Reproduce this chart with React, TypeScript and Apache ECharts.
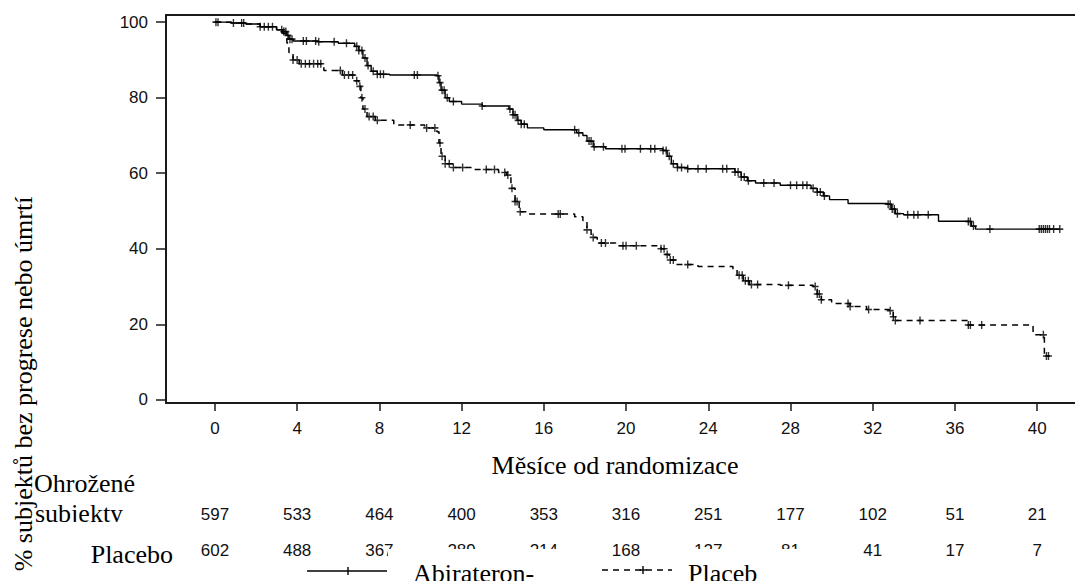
import React, { useEffect, useRef } from "react";
import * as echarts from "echarts";

// ---- data ----
const monthTicks = [0, 4, 8, 12, 16, 20, 24, 28, 32, 36, 40];
const pctTicks = [0, 20, 40, 60, 80, 100];

const atRiskAbi = [597, 533, 464, 400, 353, 316, 251, 177, 102, 51, 21];
const atRiskPbo = [602, 488, 367, 289, 214, 168, 127, 81, 41, 17, 7];

const abiT = [0, 0.8, 1.5, 2.2, 3.0, 3.3, 3.5, 3.6, 3.8, 5.0, 6.0, 6.8, 7.0, 7.2, 7.4, 7.6, 7.9, 8.5, 10.8, 10.9, 11.0, 11.2, 11.4, 12, 13, 14.3, 14.5, 14.7, 14.9, 15.2, 16, 17.6, 17.9, 18.1, 18.4, 19, 21.8, 22.0, 22.2, 22.5, 23, 25.3, 25.6, 25.9, 26.3, 27.5, 29.0, 29.3, 29.6, 29.9, 30.8, 32.7, 32.9, 33.1, 33.5, 35.2, 36.6, 36.8, 37.0, 41.1];
const abiS = [100, 99.8, 99.5, 98.8, 98.0, 97.5, 96.5, 95.5, 95.0, 94.8, 94.4, 93.6, 92.5, 90.5, 88.5, 87, 86.2, 86, 85.8, 84, 82, 80, 79, 78.3, 77.8, 77, 75.5, 74, 73, 72, 71.5, 70.7, 70, 68.5, 67, 66.5, 66, 64.5, 62.5, 61.5, 61.2, 60.3, 59, 58, 57.4, 56.8, 56, 55, 54, 53, 52, 51.8, 50.5, 49.3, 49, 47.3, 47.2, 46, 45.2, 45.2];

const pboT = [0, 0.8, 1.5, 2.2, 3.0, 3.3, 3.5, 3.6, 3.8, 4.1, 5.3, 6.2, 6.8, 7.0, 7.1, 7.2, 7.4, 7.8, 8.7, 10.2, 10.8, 10.9, 11.0, 11.2, 11.6, 12.5, 13.8, 14.2, 14.4, 14.6, 14.8, 15.2, 17.5, 17.9, 18.1, 18.3, 18.6, 19.5, 21.7, 21.9, 22.1, 22.4, 23.5, 25.2, 25.4, 25.7, 26.0, 27.5, 29.1, 29.3, 29.5, 30.0, 30.9, 31.7, 32.8, 33.0, 33.1, 36.65, 39.8, 40.35, 40.6];
const pboS = [100, 99.8, 99.5, 98.8, 98.0, 97, 94.5, 92, 90, 89, 87.2, 86, 84.5, 83, 80, 77, 75, 74, 72.8, 72, 71, 68, 64.5, 62.5, 61.5, 61, 60.2, 59.5, 56, 52.5, 49.8, 49.2, 48.5, 47.5, 45, 43, 41.5, 40.8, 40, 38.5, 37, 35.8, 35.3, 34.5, 33, 31.5, 30.5, 30.3, 30, 28, 26.5, 25.5, 24.7, 23.9, 23.6, 22, 21, 19.8, 17.2, 11.6, 11.6];

const abiCensor = [0.05, 0.15, 0.9, 1.3, 1.4, 2.2, 2.4, 2.6, 2.8, 3.25, 3.35, 3.45, 3.55, 3.65, 3.75, 4.3, 4.45, 4.9, 5.05, 5.8, 6.4, 6.9, 7.0, 7.15, 7.3, 7.45, 7.7, 7.9, 8.05, 8.2, 9.7, 9.85, 10.85, 10.95, 11.05, 11.15, 11.3, 11.6, 13.0, 14.35, 14.5, 14.6, 14.75, 14.9, 15.05, 17.5, 17.7, 18.2, 18.3, 18.45, 18.9, 19.8, 19.95, 20.7, 21.2, 21.4, 21.8, 21.95, 22.1, 22.3, 22.5, 22.7, 23.0, 23.5, 23.9, 24.7, 24.9, 25.3, 25.45, 25.6, 25.75, 25.95, 26.7, 27.2, 28.0, 28.3, 28.6, 28.8, 29.1, 29.3, 29.45, 29.65, 32.75, 32.85, 32.95, 33.05, 33.2, 33.7, 34.0, 34.2, 34.7, 36.65, 36.75, 36.9, 37.7, 40.1, 40.2, 40.3, 40.4, 40.5, 40.6, 40.8, 41.1];
const pboCensor = [3.8, 4.0, 4.2, 4.4, 4.6, 4.8, 5.0, 5.15, 6.1, 6.3, 6.5, 6.7, 6.9, 7.05, 7.15, 7.3, 7.5, 7.7, 7.9, 9.5, 10.3, 10.7, 10.95, 11.05, 11.2, 11.4, 11.6, 12.05, 13.2, 13.6, 14.1, 14.25, 14.45, 14.6, 14.7, 14.85, 16.7, 16.8, 18.1, 18.4, 18.8, 19.0, 19.85, 20.0, 20.5, 21.7, 21.85, 22.0, 22.15, 22.3, 23.0, 25.5, 25.65, 25.8, 25.95, 26.1, 26.4, 27.9, 29.2, 29.3, 29.4, 29.5, 30.8, 30.9, 31.8, 32.85, 33.0, 33.1, 34.3, 36.65, 36.75, 37.3, 40.3, 40.45, 40.55];

const abiName = "Abirateron-";
const pboName = "Placeb";
const xTitle = "Měsíce od randomizace";
const yTitle = "% subjektů bez progrese nebo úmrtí";
const riskTitle1 = "Ohrožené";
const riskTitle2 = "subjekty";
const riskRow2Name = "Placebo";

// ---- helpers ----
const SERIF = "Liberation Serif";
const SANS = "Liberation Sans";
const PLUS = "path://M4,0 H6 V4 H10 V6 H6 V10 H4 V6 H0 V4 H4 Z";

function stepAt(ts: number[], ss: number[], t: number): number {
  let v = ss[0];
  for (let i = 0; i < ts.length; i++) {
    if (ts[i] <= t) v = ss[i];
    else break;
  }
  return v;
}

export default function App() {
  const ref = useRef<HTMLDivElement>(null);

  useEffect(() => {
    if (!ref.current) return;
    const chart = echarts.init(ref.current, null, { renderer: "svg" });
    const axisColor = "#1a1a1a";

    const option: any = {
      animation: false,
      backgroundColor: "#fff",
      grid: { left: 166, top: 15, right: 0, bottom: 178 },
      xAxis: [
        {
          type: "value",
          min: -2.38,
          max: 41.84,
          position: "bottom",
          axisLine: { show: true, onZero: false, lineStyle: { color: axisColor, width: 2 } },
          axisTick: { show: true, length: 8, customValues: monthTicks, lineStyle: { color: axisColor, width: 1.5 } },
          axisLabel: { customValues: monthTicks, fontSize: 17, fontFamily: SANS, color: "#111", margin: 17 },
          splitLine: { show: false },
        },
        {
          type: "value",
          min: -2.38,
          max: 41.84,
          position: "top",
          axisLine: { show: true, onZero: false, lineStyle: { color: axisColor, width: 2 } },
          axisTick: { show: false },
          axisLabel: { show: false },
          splitLine: { show: false },
        },
      ],
      yAxis: {
        type: "value",
        min: -0.85,
        max: 101.9,
        axisLine: { show: true, onZero: false, lineStyle: { color: axisColor, width: 2 } },
        axisTick: { show: true, length: 10, customValues: pctTicks, lineStyle: { color: axisColor, width: 1.5 } },
        axisLabel: { customValues: pctTicks, fontSize: 17, fontFamily: SANS, color: "#111", margin: 18 },
        splitLine: { show: false },
      },
      series: [
        {
          type: "line",
          name: abiName,
          step: "end",
          showSymbol: false,
          data: abiT.map((t, i) => [t, abiS[i]]),
          lineStyle: { color: "#000", width: 1.4, type: "solid" },
          z: 3,
        },
        {
          type: "scatter",
          data: abiCensor.map((t) => [t, stepAt(abiT, abiS, t)]),
          symbol: PLUS,
          symbolSize: [7, 8],
          itemStyle: { color: "#000" },
          z: 4,
        },
        {
          type: "line",
          name: pboName,
          step: "end",
          showSymbol: false,
          data: pboT.map((t, i) => [t, pboS[i]]),
          lineStyle: { color: "#000", width: 1.5, type: [6, 5] },
          z: 3,
        },
        {
          type: "scatter",
          data: pboCensor.map((t) => [t, stepAt(pboT, pboS, t)]),
          symbol: PLUS,
          symbolSize: [7, 8],
          itemStyle: { color: "#000" },
          z: 4,
        },
      ],
    };
    chart.setOption(option);

    const px = (t: number) => chart.convertToPixel({ xAxisIndex: 0 }, t) as number;
    const g: any[] = [];
    // at-risk rows
    monthTicks.forEach((m, i) => {
      g.push({
        type: "text", x: px(m), y: 514, z: 5,
        style: { text: String(atRiskAbi[i]), fontSize: 17, fontFamily: SANS, fill: "#111", align: "center", verticalAlign: "middle" },
      });
      g.push({
        type: "text", x: px(m), y: 550, z: 5,
        style: { text: String(atRiskPbo[i]), fontSize: 17, fontFamily: SANS, fill: "#111", align: "center", verticalAlign: "middle" },
      });
    });
    // white legend boxes covering parts of row 2
    g.push({ type: "rect", shape: { x: 388, y: 549, width: 212, height: 40 }, style: { fill: "#fff" }, z: 10 });
    g.push({ type: "rect", shape: { x: 650, y: 549, width: 155, height: 40 }, style: { fill: "#fff" }, z: 10 });
    g.push({ type: "rect", shape: { x: 34, y: 522, width: 106, height: 18 }, style: { fill: "#fff" }, z: 10 });
    // titles
    g.push({
      type: "text", x: 615, y: 465, z: 20,
      style: { text: xTitle, fontSize: 26, fontFamily: SERIF, fill: "#000", align: "center", verticalAlign: "middle" },
    });
    g.push({
      type: "text", x: 34, y: 483, z: 8,
      style: { text: riskTitle1, fontSize: 26, fontFamily: SERIF, fill: "#000", align: "left", verticalAlign: "middle" },
    });
    g.push({
      type: "text", x: 35, y: 513, z: 8,
      style: { text: riskTitle2, fontSize: 26, fontFamily: SERIF, fill: "#000", align: "left", verticalAlign: "middle" },
    });
    g.push({
      type: "text", x: 173, y: 554, z: 8,
      style: { text: riskRow2Name, fontSize: 26, fontFamily: SERIF, fill: "#000", align: "right", verticalAlign: "middle" },
    });
    g.push({
      type: "text", x: 23, y: 384, rotation: Math.PI / 2, z: 30,
      style: { text: yTitle, fontSize: 26, fontFamily: SERIF, fill: "#000", align: "center", verticalAlign: "middle" },
    });
    // legend
    g.push({ type: "line", shape: { x1: 307, y1: 571, x2: 387, y2: 571 }, style: { stroke: "#000", lineWidth: 1.3 }, z: 20 });
    g.push({ type: "line", shape: { x1: 348, y1: 567, x2: 348, y2: 575 }, style: { stroke: "#000", lineWidth: 1.4 }, z: 20 });
    g.push({
      type: "text", x: 413, y: 573, z: 20,
      style: { text: abiName, fontSize: 26, fontFamily: SERIF, fill: "#000", align: "left", verticalAlign: "middle" },
    });
    g.push({ type: "line", shape: { x1: 602, y1: 570, x2: 672, y2: 570 }, style: { stroke: "#000", lineWidth: 1.4, lineDash: [6, 5] }, z: 20 });
    g.push({ type: "line", shape: { x1: 643, y1: 566, x2: 643, y2: 574 }, style: { stroke: "#000", lineWidth: 1.4 }, z: 20 });
    g.push({ type: "line", shape: { x1: 639.5, y1: 570, x2: 646.5, y2: 570 }, style: { stroke: "#000", lineWidth: 1.4 }, z: 20 });
    g.push({
      type: "text", x: 688, y: 573, z: 20,
      style: { text: pboName, fontSize: 26, fontFamily: SERIF, fill: "#000", align: "left", verticalAlign: "middle" },
    });
    chart.setOption({ graphic: g });

    return () => chart.dispose();
  }, []);

  return (
    <div
      ref={ref}
      style={{ position: "fixed", left: 0, top: 0, width: 1075, height: 581, background: "#fff" }}
    />
  );
}
